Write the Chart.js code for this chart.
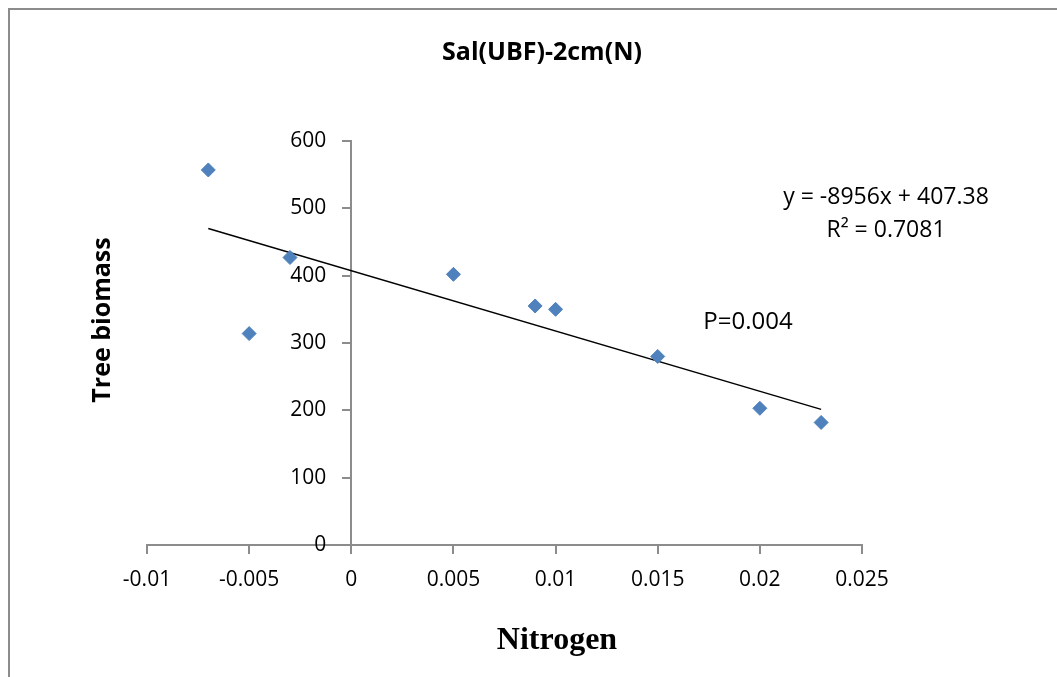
<!DOCTYPE html>
<html>
<head>
<meta charset="utf-8">
<script src="https://cdn.jsdelivr.net/npm/chart.js@4/dist/chart.umd.min.js"></script>
<style>
  html, body { margin: 0; padding: 0; background: #fff; overflow: hidden; }
  #frame { position: absolute; left: 8px; top: 8px; width: 1200px; height: 800px; border: 2px solid #8c8c8c; }
  #wrap { position: absolute; left: 0; top: 0; width: 1057px; height: 677px; }
</style>
</head>
<body>
<div id="frame"></div>
<div id="wrap"><canvas id="chart"></canvas></div>
<script>
        // Data
        const nitrogen = [-0.007, -0.005, -0.003, 0.005, 0.009, 0.010, 0.015, 0.020, 0.023];
        const biomass = [557, 314, 427, 402, 355, 350, 280, 203, 182];

        // Linear trendline endpoints (y = -8956x + 407.38)
        const trendX = [-0.007, 0.023];
        const trendY = [470.1, 201.4];

        const xTicks = [-0.01, -0.005, 0, 0.005, 0.01, 0.015, 0.02, 0.025];
        const yTicks = [0, 100, 200, 300, 400, 500, 600];

        const chartTitle = 'Sal(UBF)-2cm(N)';
        const xTitle = 'Nitrogen';
        const yTitle = 'Tree biomass';
        const equationText = 'y = -8956x + 407.38';
        const r2Text = 'R² = 0.7081';
        const pText = 'P=0.004';

        const sans = "'Open Sans', 'Noto Sans', sans-serif";

        // Draw titles, y tick labels and trendline labels
        const textPlugin = {
            id: 'texts',
            afterDraw(chart) {
                const ctx = chart.ctx;
                const xs = chart.scales.x;
                const ys = chart.scales.y;
                ctx.save();
                ctx.fillStyle = '#000';
                ctx.textBaseline = 'middle';

                // y tick labels, left of the axis at x = 0
                ctx.textAlign = 'right';
                ctx.font = '21px ' + sans;
                const axisX = xs.getPixelForValue(0);
                ys.ticks.forEach(t => {
                    ctx.fillText(String(t.value), axisX - 25, ys.getPixelForValue(t.value));
                });

                ctx.textAlign = 'center';
                ctx.font = 'bold 25px ' + sans;
                ctx.fillText(chartTitle, 542, 53);

                ctx.font = 'bold 32px "Liberation Serif", serif';
                ctx.fillText(xTitle, 557, 641);

                ctx.save();
                ctx.translate(103, 320);
                ctx.rotate(-Math.PI / 2);
                ctx.font = 'bold 25px ' + sans;
                ctx.fillText(yTitle, 0, 0);
                ctx.restore();

                ctx.font = '23px ' + sans;
                ctx.fillText(equationText, 886, 197);
                ctx.fillText(r2Text, 886, 230);
                ctx.font = '24px ' + sans;
                ctx.fillText(pText, 748, 322);
                ctx.restore();
            }
        };

        const ctx = document.getElementById('chart').getContext('2d');
        new Chart(ctx, {
            type: 'scatter',
            data: {
                datasets: [
                    {
                        label: 'Tree biomass',
                        data: nitrogen.map((x, i) => ({ x: x, y: biomass[i] })),
                        pointStyle: 'rectRot',
                        pointRadius: 7,
                        pointBackgroundColor: '#4f81bd',
                        pointBorderColor: '#4f81bd',
                        pointBorderWidth: 1,
                        order: 1
                    },
                    {
                        label: 'Linear',
                        type: 'line',
                        data: trendX.map((x, i) => ({ x: x, y: trendY[i] })),
                        borderColor: '#000',
                        borderWidth: 1.5,
                        pointRadius: 0,
                        fill: false,
                        order: 2
                    }
                ]
            },
            options: {
                responsive: true,
                maintainAspectRatio: false,
                animation: false,
                layout: {
                    padding: { left: 147, right: 195, top: 141, bottom: 132 }
                },
                plugins: {
                    legend: { display: false },
                    tooltip: { enabled: false }
                },
                scales: {
                    x: {
                        type: 'linear',
                        min: -0.01,
                        max: 0.025,
                        position: { y: 0 },
                        afterBuildTicks: axis => { axis.ticks = xTicks.map(v => ({ value: v })); },
                        ticks: {
                            color: '#000',
                            font: { family: sans, size: 21 },
                            padding: 14,
                            callback: v => String(+v.toFixed(3))
                        },
                        grid: {
                            drawOnChartArea: false,
                            drawTicks: true,
                            tickLength: 8,
                            color: '#8c8c8c',
                            lineWidth: 2
                        },
                        border: { color: '#8c8c8c', width: 2 }
                    },
                    y: {
                        type: 'linear',
                        min: 0,
                        max: 600,
                        position: { x: 0 },
                        afterBuildTicks: axis => { axis.ticks = yTicks.map(v => ({ value: v })); },
                        ticks: {
                            // drawn by the texts plugin instead
                            color: 'rgba(0,0,0,0)',
                            font: { family: sans, size: 21 }
                        },
                        grid: {
                            drawOnChartArea: false,
                            drawTicks: true,
                            tickLength: 8,
                            color: '#8c8c8c',
                            lineWidth: 2
                        },
                        border: { color: '#8c8c8c', width: 2 }
                    }
                }
            },
            plugins: [textPlugin]
        });
</script>
</body>
</html>
